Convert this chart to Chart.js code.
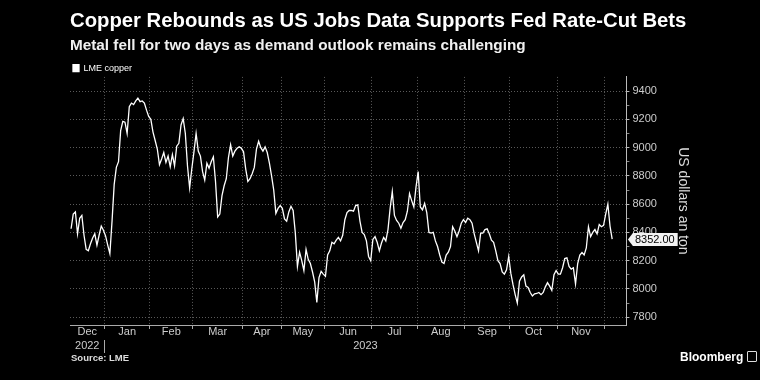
<!DOCTYPE html>
<html>
<head>
<meta charset="utf-8">
<script src="https://cdn.jsdelivr.net/npm/chart.js@4.4.0/dist/chart.umd.min.js"></script>
<style>
html,body{margin:0;padding:0;background:#000;}
#wrap{position:relative;width:760px;height:380px;overflow:hidden;background:#000;}
canvas{position:absolute;left:0;top:0;}
.src{position:absolute;left:71px;top:352px;font:bold 9.5px "Liberation Sans",Arial,sans-serif;color:#ddd;line-height:12px;}
.bb{position:absolute;left:680px;top:350px;font:bold 12px "Liberation Sans",Arial,sans-serif;color:#fff;line-height:14px;}
.logo{position:absolute;left:747px;top:351px;width:8px;height:9px;border:1px solid #ddd;border-radius:1px;}
</style>
</head>
<body>
<div id="wrap">
<canvas id="c" width="760" height="380"></canvas>
<div class="src">Source: LME</div>
<div class="bb">Bloomberg</div>
<div class="logo"></div>
</div>
<script>
// ---- data ----
const monthNames = ['Dec','Jan','Feb','Mar','Apr','May','Jun','Jul','Aug','Sep','Oct','Nov'];
// index of first trading day of each month (Dec 2022 .. Dec 2023)
const monthStartIdx = [0,16,37,57,80,98,118,140,161,183,204,226,248];
const yearLabels = ['2022','2023'];
const yearStartIdx = [0,16];
const yMajorTicks = [7800,8000,8200,8400,8600,8800,9000,9200,9400];
const yMinorTicks = [7900,8100,8300,8500,8700,8900,9100,9300];
const seriesLabel = 'LME copper';
const copper = [
8426,8530,8545,8390,8500,8520,8380,8280,8270,8320,8360,8390,8310,8380,8445,8415,
8375,8310,8250,8480,8740,8860,8900,9120,9185,9180,9100,9290,9315,9305,9330,9350,9325,9330,9315,9265,9220,
9200,9110,9050,8990,8880,8920,8965,8895,8940,8865,8950,8870,9010,9030,9160,9205,9100,8870,8715,8850,
8970,9100,8975,8940,8830,8770,8890,8855,8900,8935,8760,8510,8530,8660,8730,8780,8930,9020,8940,8975,8995,9005,8995,
8970,8850,8760,8780,8815,8860,8990,9045,9000,8975,9005,8965,8890,8800,8700,8535,8570,8590,
8570,8495,8480,8545,8585,8555,8400,8160,8260,8200,8130,8280,8210,8180,8120,8050,7905,8080,8125,8105,
8090,8240,8270,8330,8320,8345,8365,8340,8380,8490,8540,8555,8555,8550,8590,8595,8480,8400,8385,8340,8230,8200,
8350,8370,8330,8270,8325,8365,8340,8420,8570,8690,8520,8485,8465,8430,8470,8490,8550,8675,8625,8580,8720,
8830,8580,8560,8605,8540,8400,8395,8400,8340,8300,8240,8190,8180,8240,8260,8300,8440,8410,8370,8410,8465,8490,
8470,8500,8490,8465,8390,8330,8270,8395,8395,8420,8425,8390,8345,8330,8270,8200,8180,8120,8105,8135,8230,
8110,8030,7960,7900,8055,8085,8100,8020,8010,7975,7950,7965,7968,7975,7960,7975,8015,8045,8020,7990,8100,8130,
8105,8105,8150,8215,8220,8160,8140,8150,8035,8180,8240,8258,8240,8290,8440,8370,8400,8420,8390,8455,8440,8450,
8530,8600,8445,8352
];
const lastValue = copper[copper.length - 1];
const xMin = -0.5, xMax = 257.6;
const yMin = 7745, yMax = 9500;

// derived
const boundaries = monthStartIdx.slice(1).map(i => i - 0.5);
const monthCenters = monthNames.map((n, k) => (monthStartIdx[k] + monthStartIdx[k + 1]) / 2 - 0.5);
const yearCenters = [
  (yearStartIdx[0] + yearStartIdx[1]) / 2 - 0.5,
  (yearStartIdx[1] - 0.5 + xMax) / 2
];
const yAllTicks = yMajorTicks.concat(yMinorTicks).sort((a, b) => a - b);
const points = copper.map((v, i) => ({x: i, y: v}));

const FONT = "'Liberation Sans', Arial, sans-serif";
Chart.defaults.font.family = FONT;

const bgPlugin = {
  id: 'bg',
  beforeDraw(chart) {
    const c = chart.ctx;
    c.save(); c.fillStyle = '#000'; c.fillRect(0, 0, chart.width, chart.height); c.restore();
  }
};
const yearSepPlugin = {
  id: 'yearSep',
  afterDraw(chart) {
    const c = chart.ctx, xs = chart.scales.x, ys = chart.scales.xy;
    const px = Math.round(xs.getPixelForValue(yearStartIdx[1] - 0.5)) + 0.5;
    c.save(); c.strokeStyle = '#aaa'; c.lineWidth = 1;
    c.beginPath(); c.moveTo(px, ys.top + 1); c.lineTo(px, ys.top + 14); c.stroke(); c.restore();
  }
};
const lastValuePlugin = {
  id: 'lastValue',
  afterDraw(chart) {
    const c = chart.ctx, ys = chart.scales.y;
    const y = Math.round(ys.getPixelForValue(lastValue)) + 0.5;
    const x0 = chart.chartArea.right + 1.5;
    const label = lastValue.toFixed(2);
    c.save();
    c.font = '11px ' + FONT;
    const w = c.measureText(label).width + 5;
    const h = 6.5;
    c.beginPath();
    c.moveTo(x0, y); c.lineTo(x0 + 5, y - h); c.lineTo(x0 + 5 + w, y - h);
    c.lineTo(x0 + 5 + w, y + h); c.lineTo(x0 + 5, y + h); c.closePath();
    c.fillStyle = '#f2f2f2'; c.fill();
    c.fillStyle = '#000'; c.textBaseline = 'middle'; c.textAlign = 'left';
    c.fillText(label, x0 + 7, y + 0.5);
    c.restore();
  }
};

new Chart(document.getElementById('c'), {
  type: 'line',
  data: {
    datasets: [{
      label: seriesLabel,
      data: points,
      borderColor: '#ffffff',
      backgroundColor: '#ffffff',
      borderWidth: 1.3,
      pointRadius: 0,
      tension: 0,
      xAxisID: 'x',
      yAxisID: 'y'
    }]
  },
  options: {
    responsive: false,
    animation: false,
    devicePixelRatio: 1,
    layout: {padding: {left: 70, right: 68.6, top: 0, bottom: 27}},
    plugins: {
      title: {
        display: true,
        text: 'Copper Rebounds as US Jobs Data Supports Fed Rate-Cut Bets',
        align: 'start', color: '#ffffff',
        font: {size: 20.3, weight: 'bold', family: FONT},
        padding: {top: 9, bottom: 3}
      },
      subtitle: {
        display: true,
        text: 'Metal fell for two days as demand outlook remains challenging',
        align: 'start', color: '#f0f0f0',
        font: {size: 15.3, weight: 'bold', family: FONT},
        padding: {top: 0, bottom: 6}
      },
      legend: {
        display: true, align: 'start', maxHeight: 16.2,
        labels: {boxWidth: 6, boxHeight: 7, padding: 3, color: '#ffffff', font: {size: 9, family: FONT}}
      },
      tooltip: {enabled: false}
    },
    scales: {
      x: {
        type: 'linear', position: 'bottom', min: xMin, max: xMax, weight: 0,
        afterBuildTicks: s => { s.ticks = boundaries.map(v => ({value: v})); },
        afterFit: s => { s.height = 0; },
        ticks: {display: false},
        grid: {color: '#5a5a5a', lineWidth: 1, drawTicks: true, tickLength: 4, tickColor: '#aaaaaa', tickBorderDash: [], tickWidth: 1},
        border: {display: true, color: '#aaaaaa', width: 1, dash: [1, 2]}
      },
      xm: {
        type: 'linear', position: 'bottom', min: xMin, max: xMax, weight: 1,
        afterBuildTicks: s => { s.ticks = monthCenters.map(v => ({value: v})); },
        afterFit: s => { s.height = 14; },
        ticks: {autoSkip: false, maxRotation: 0, minRotation: 0, padding: 0.5, color: '#cccccc', font: {size: 11},
          callback: (v, i) => monthNames[i]},
        grid: {display: false, drawTicks: false},
        border: {display: false}
      },
      xy: {
        type: 'linear', position: 'bottom', min: xMin, max: xMax, weight: 2,
        afterBuildTicks: s => { s.ticks = yearCenters.map(v => ({value: v})); },
        afterFit: s => { s.height = 14; },
        ticks: {autoSkip: false, maxRotation: 0, minRotation: 0, padding: 0.5, color: '#cccccc', font: {size: 11},
          callback: (v, i) => yearLabels[i]},
        grid: {display: false, drawTicks: false},
        border: {display: false}
      },
      y: {
        type: 'linear', position: 'right', min: yMin, max: yMax,
        afterBuildTicks: s => { s.ticks = yAllTicks.map(v => ({value: v})); },
        afterFit: s => { s.width = 65; },
        ticks: {autoSkip: false, padding: 3, color: '#cccccc', font: {size: 11},
          callback: v => yMajorTicks.includes(v) ? String(v) : ''},
        grid: {
          color: ctx => (ctx.tick && yMajorTicks.includes(ctx.tick.value)) ? '#5a5a5a' : 'rgba(0,0,0,0)',
          tickLength: 3, tickWidth: 1, tickBorderDash: [],
          tickColor: ctx => (ctx.tick && yMajorTicks.includes(ctx.tick.value)) ? '#bbbbbb' : '#888888'
        },
        border: {display: true, color: '#bbbbbb', width: 1, dash: [1, 2]},
        title: {display: true, text: 'US dollars an ton', color: '#dddddd', font: {size: 14}, padding: 0}
      }
    }
  },
  plugins: [bgPlugin, yearSepPlugin, lastValuePlugin]
});
</script>
</body>
</html>
